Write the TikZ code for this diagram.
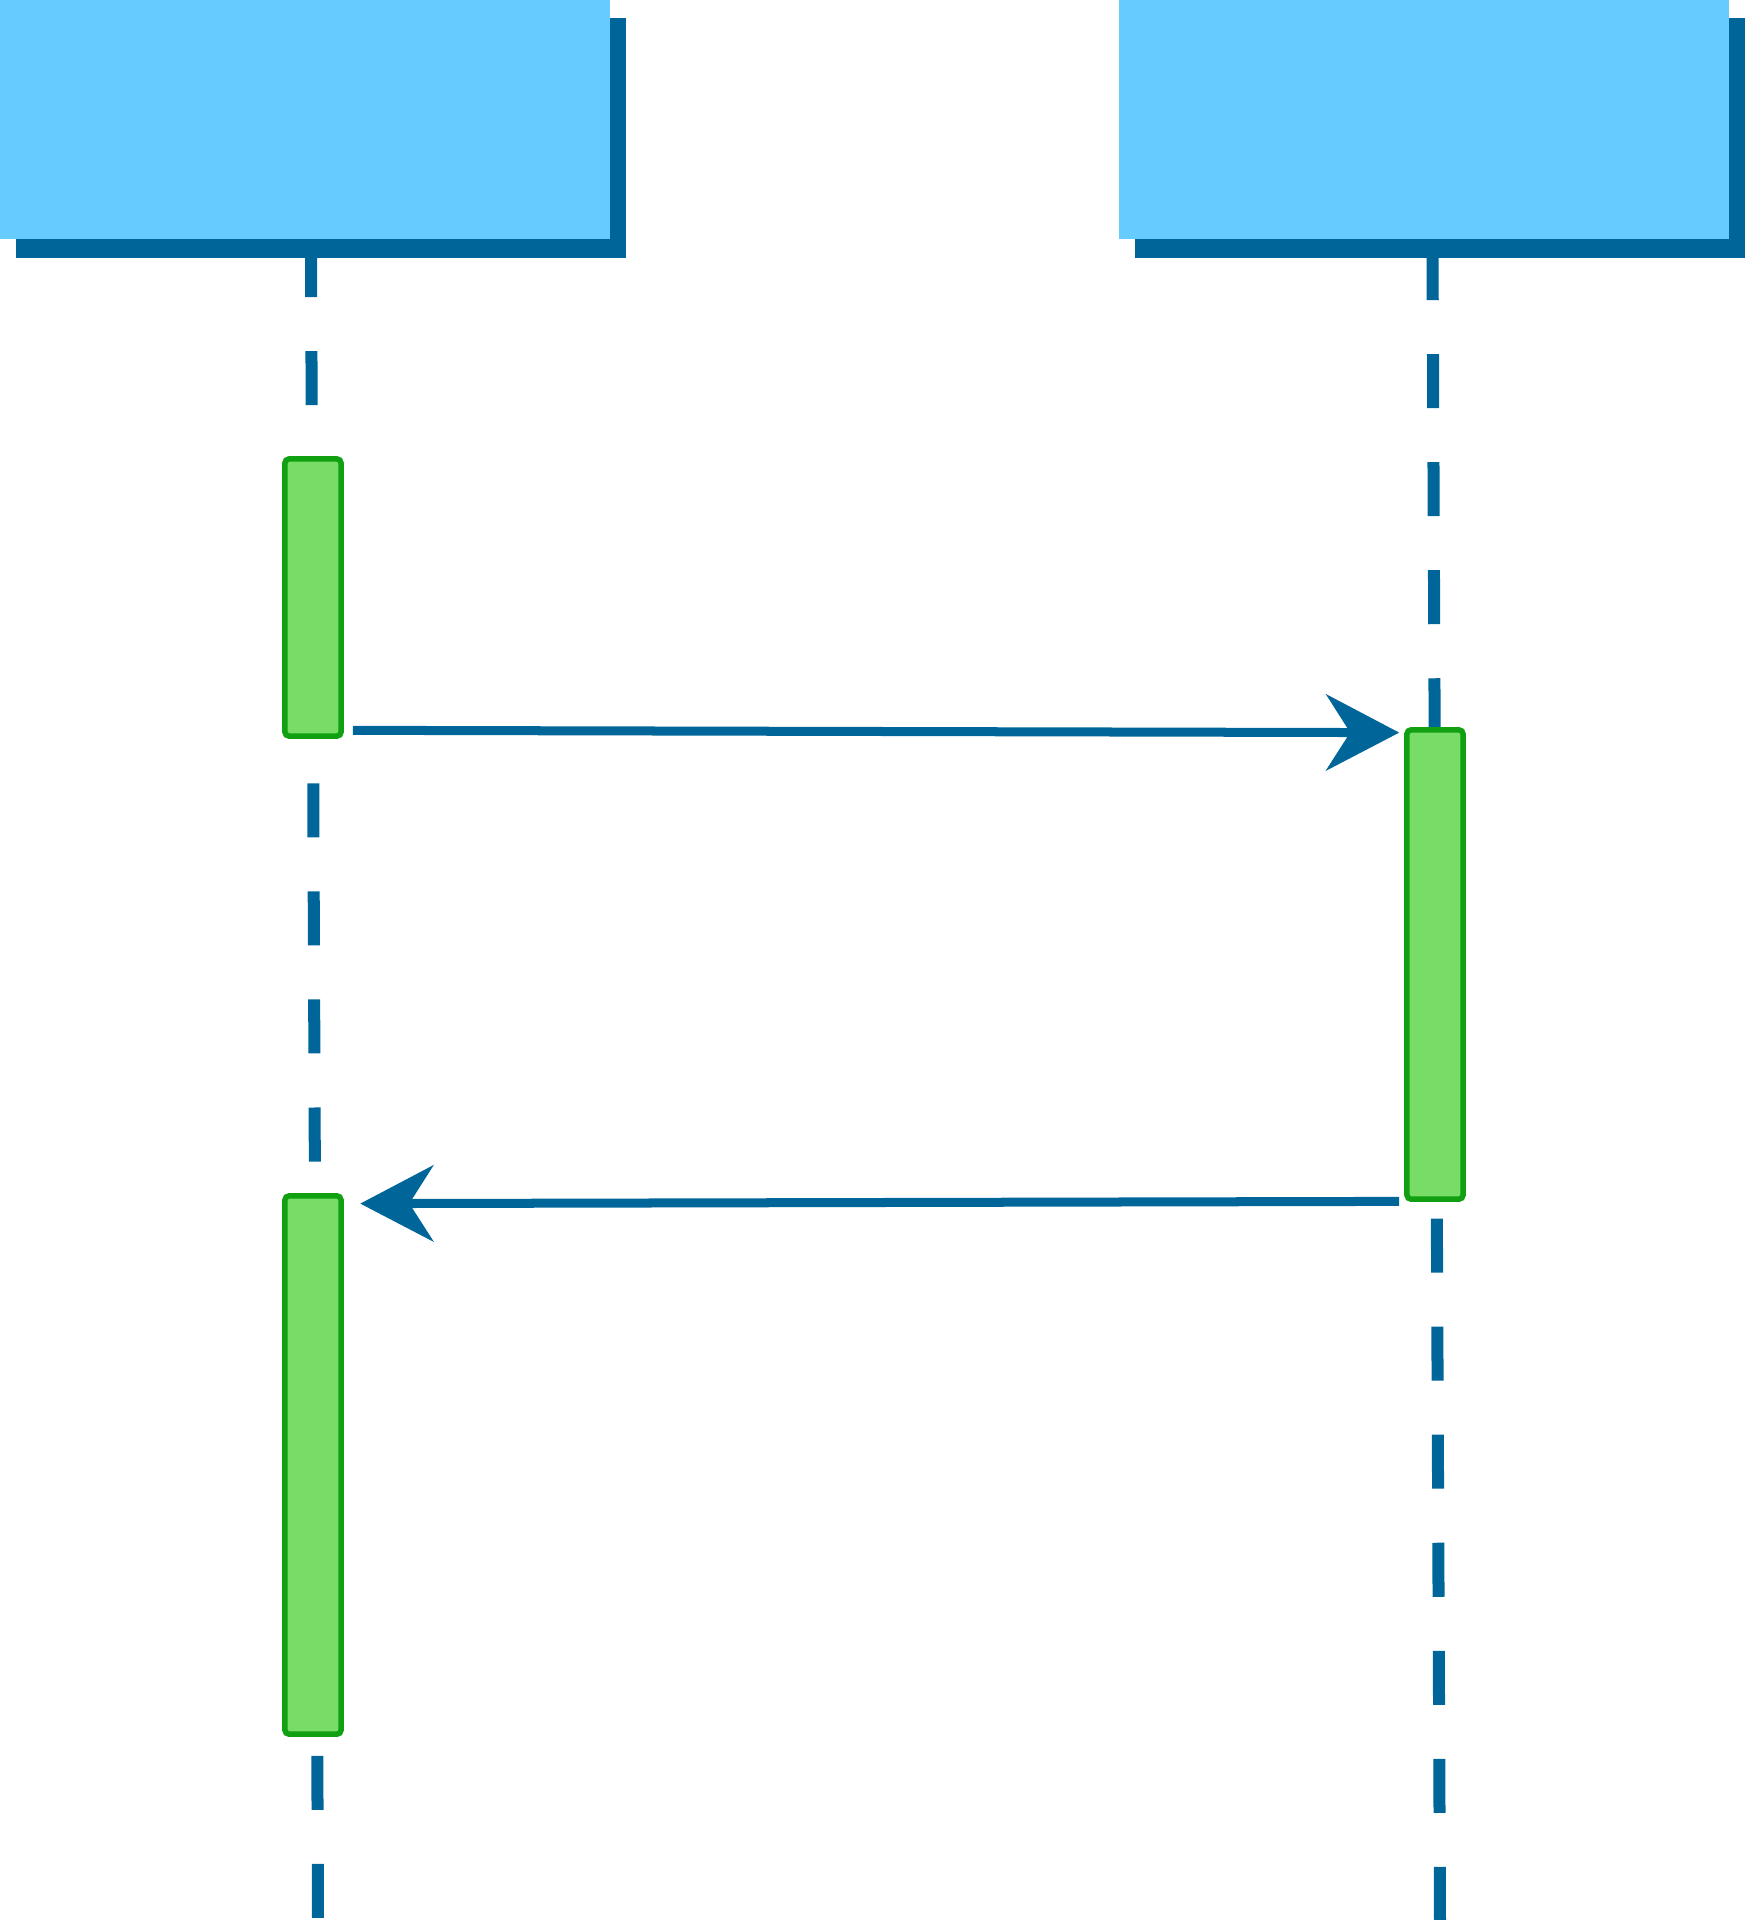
\documentclass[tikz,border=0pt]{standalone}
\usetikzlibrary{arrows.meta,shadows}
\definecolor{boxblue}{HTML}{66CCFF}
\definecolor{lineblue}{HTML}{006699}
\definecolor{actfill}{HTML}{77DD66}
\definecolor{actdraw}{HTML}{11A011}
\tikzset{
  actor/.style={fill=boxblue, draw=none, inner sep=0pt, minimum width=6.10cm, minimum height=2.39cm,
    general shadow={fill=lineblue, shadow xshift=0.16cm, shadow yshift=-0.185cm}},
  lifeline/.style={draw=lineblue, line width=0.12cm, dash pattern=on 0.54cm off 0.54cm},
  activation/.style={fill=actfill, draw=actdraw, line width=0.055cm, rounded corners=0.04cm, inner sep=0pt, minimum width=0.56cm},
  message/.style={draw=lineblue, line width=0.09cm,
    -{Stealth[length=0.73cm, width=0.76cm, inset=0.24cm, fill=lineblue]}}
}
\begin{document}
\begin{tikzpicture}[x=0.01cm, y=-0.01cm]
\useasboundingbox (0,0) rectangle (1746,1920);
% lifelines
\coordinate (ltop) at (311,243);
\coordinate (lbot) at (318,1920);
\coordinate (rtop) at (1432.5,246);
\coordinate (rbot) at (1440,1920);
\draw[lifeline] (ltop) -- (lbot);
\draw[lifeline] (rtop) -- (rbot);
% actor boxes
\node[actor] (A) at (305,119.5) {};
\node[actor] (B) at (1424,119.5) {};
% activation bars
\node[activation, minimum height=2.77cm] (act1) at (313,597.5) {};
\node[activation, minimum height=4.69cm] (act2) at (1435,964.5) {};
\node[activation, minimum height=5.38cm] (act3) at (313,1465) {};
% messages
\draw[message] ([xshift=0.09cm, yshift=0.085cm]act1.south east) -- ([xshift=-0.05cm, yshift=-0.055cm]act2.north west);
\draw[message] ([xshift=-0.05cm, yshift=0.005cm]act2.south west) -- ([xshift=0.165cm, yshift=-0.105cm]act3.north east);
\end{tikzpicture}
\end{document}
